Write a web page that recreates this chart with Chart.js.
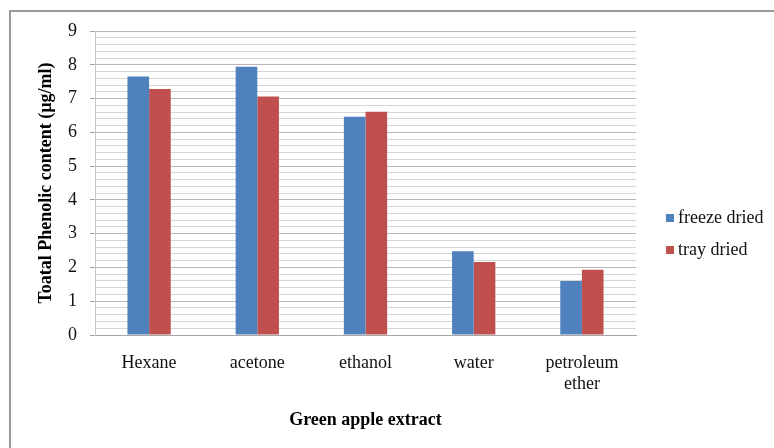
<!DOCTYPE html>
<html>
<head>
<meta charset="utf-8">
<script src="https://cdn.jsdelivr.net/npm/chart.js@4/dist/chart.umd.min.js"></script>
<style>
  html, body { margin: 0; padding: 0; background: #fff; }
  #wrap { position: relative; width: 774px; height: 448px; overflow: hidden; }
  #frame { position: absolute; left: 9px; top: 10px; width: 900px; height: 600px;
           border-left: 2px solid #9a9a9a; border-top: 2px solid #9a9a9a; box-sizing: border-box; }
  canvas { position: absolute; left: 0; top: 0; }
  .lg { position: absolute; left: 666px; font: 18px "Liberation Serif", "Times New Roman", serif; color: #111; line-height: 20px; white-space: nowrap; }
  .lg span.sw { display: inline-block; width: 8px; height: 8px; margin-right: 4px; vertical-align: 1px; }
</style>
</head>
<body>
<div id="wrap">
  <div id="frame"></div>
  <canvas id="c" width="774" height="448"></canvas>
  <div class="lg" id="lg1" style="top:207px"><span class="sw" id="sw1"></span>freeze dried</div>
  <div class="lg" id="lg2" style="top:239px"><span class="sw" id="sw2"></span>tray dried</div>
</div>
<script>
const categories = ["Hexane", "acetone", "ethanol", "water", ["petroleum", "ether"]];
const seriesNames = ["freeze dried", "tray dried"];
const freezeDried = [7.65, 7.94, 6.46, 2.48, 1.60];
const trayDried = [7.28, 7.06, 6.61, 2.16, 1.93];
const yMin = 0, yMax = 9, yMinorStep = 0.2;
const yTitle = "Toatal Phenolic content (µg/ml)";
const xTitle = "Green apple extract";

const blue = "#4F81BD", red = "#C0504D";
document.getElementById("sw1").style.background = blue;
document.getElementById("sw2").style.background = red;

const serif = '"Liberation Serif", "Times New Roman", serif';
const isMajor = v => Math.abs(v - Math.round(v)) < 1e-6;

new Chart(document.getElementById("c"), {
  type: "bar",
  data: {
    labels: categories,
    datasets: [
      { label: seriesNames[0], data: freezeDried, backgroundColor: blue, borderWidth: 0 },
      { label: seriesNames[1], data: trayDried, backgroundColor: red, borderWidth: 0 }
    ]
  },
  options: {
    responsive: false,
    animation: false,
    devicePixelRatio: 1,
    layout: { padding: { left: 0, top: 31, right: 138, bottom: 0 } },
    plugins: { legend: { display: false }, tooltip: { enabled: false } },
    datasets: { bar: { categoryPercentage: 0.4, barPercentage: 1.0 } },
    scales: {
      x: {
        grid: { display: false, drawTicks: false },
        border: { display: true, color: "#a6a6a6", width: 1 },
        ticks: { color: "#111", font: { family: serif, size: 18 }, padding: 17, maxRotation: 0, autoSkip: false },
        title: { display: true, text: xTitle, color: "#000", font: { family: serif, size: 18, weight: "bold" }, padding: { top: 0, bottom: 17 } },
        afterFit: s => { s.height = 448 - 335; }
      },
      y: {
        min: yMin, max: yMax,
        grid: {
          color: ctx => isMajor(ctx.tick.value) ? "#b8b8b8" : "#d6d6d6",
          tickColor: ctx => isMajor(ctx.tick.value) ? "#a6a6a6" : "rgba(0,0,0,0)",
          tickLength: 5,
          lineWidth: 1
        },
        border: { display: true, color: "#c8c8c8", width: 1 },
        ticks: {
          stepSize: yMinorStep,
          autoSkip: false,
          color: "#111",
          font: { family: serif, size: 18 },
          padding: 13,
          callback: v => isMajor(v) ? String(Math.round(v)) : ""
        },
        title: { display: true, text: yTitle, color: "#000", font: { family: serif, size: 18, weight: "bold" }, padding: { top: 36, bottom: 0 } },
        afterFit: s => { s.width = 95; }
      }
    }
  }
});
</script>
</body>
</html>
